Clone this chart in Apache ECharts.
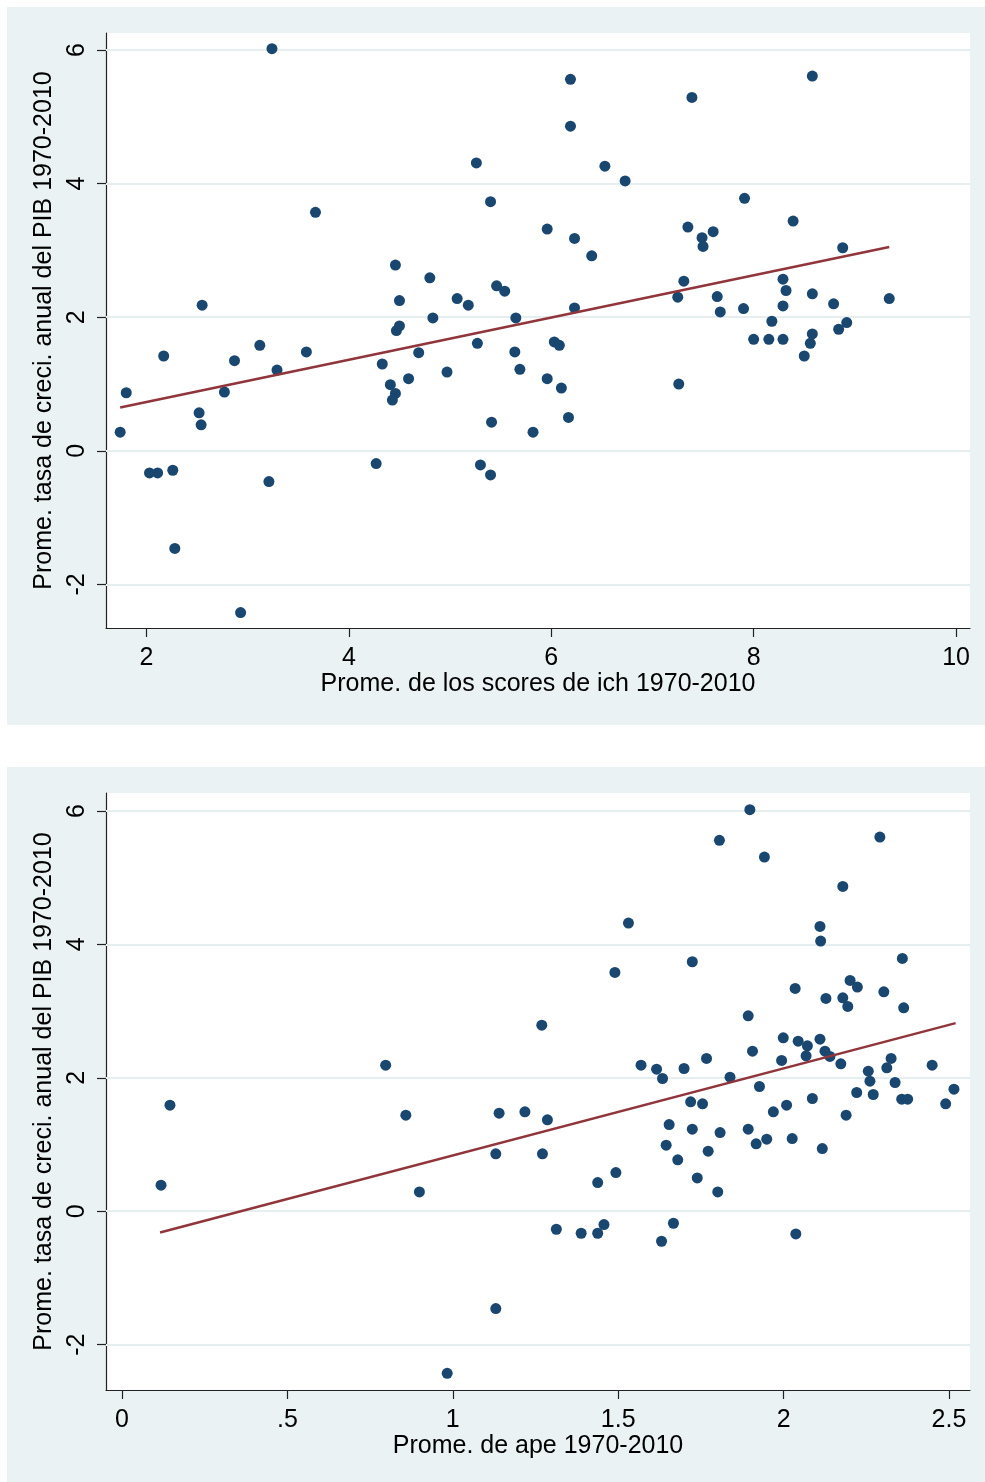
<!DOCTYPE html>
<html>
<head>
<meta charset="utf-8">
<script src="https://cdn.jsdelivr.net/npm/echarts@6/dist/echarts.min.js"></script>
<style>
html,body{margin:0;padding:0;background:#fff;}
#c{width:985px;height:1482px;}
</style>
</head>
<body>
<div id="c"></div>
<script>
// ---- data ----
const ichX = [1.74,1.80,2.17,2.03,2.11,2.26,2.28,2.52,2.54,2.55,2.77,2.87,2.93,3.12,3.21,3.29,3.24,3.58,3.67,4.27,
  4.33,4.41,4.46,4.43,4.46,4.50,4.47,4.50,4.59,4.69,4.80,4.83,4.97,5.07,5.18,5.26,5.27,5.30,5.40,5.40,
  5.41,5.46,5.54,5.65,5.64,5.69,5.82,5.96,5.96,6.03,6.08,6.10,6.17,6.19,6.19,6.23,6.23,6.40,6.53,6.73,
  7.25,7.26,7.31,7.35,7.39,7.49,7.50,7.60,7.64,7.67,7.90,7.91,8.00,8.15,8.18,8.29,8.32,8.29,8.29,8.39,
  8.50,8.56,8.58,8.58,8.58,8.79,8.84,8.92,8.88,9.34];
const ichY = [0.28,0.87,1.42,-0.33,-0.33,-0.29,-1.46,0.57,0.39,2.18,0.88,1.35,-2.42,1.58,-0.46,1.21,6.02,1.48,3.57,-0.19,
  1.30,0.99,0.86,0.76,2.78,2.25,1.80,1.87,1.08,1.47,2.59,1.99,1.18,2.28,2.18,4.31,1.61,-0.21,-0.36,3.73,
  0.43,2.47,2.39,1.99,1.48,1.22,0.28,3.32,1.08,1.63,1.58,0.94,0.50,5.56,4.86,3.18,2.14,2.92,4.26,4.04,
  2.30,1.00,2.54,3.35,5.29,3.19,3.06,3.28,2.31,2.08,2.13,3.78,1.67,1.67,1.94,2.57,2.40,2.17,1.67,3.44,
  1.42,1.61,1.75,2.35,5.61,2.20,1.82,1.92,3.04,2.28];
const ichFitX = [1.74, 9.34];
const ichFitY = [0.65, 3.05];

const apeX = [0.118,0.145,0.797,0.858,0.899,0.983,1.13,1.13,1.14,1.218,1.271,1.286,1.269,1.313,1.388,1.438,1.457,1.438,1.493,1.490,
  1.531,1.569,1.616,1.634,1.631,1.667,1.645,1.654,1.680,1.699,1.719,1.724,1.724,1.739,1.755,1.767,1.772,1.801,1.808,1.806,
  1.838,1.893,1.893,1.898,1.906,1.917,1.927,1.942,1.949,1.969,1.994,1.999,2.009,2.026,2.035,2.037,2.044,2.068,2.072,2.087,
  2.110,2.112,2.110,2.117,2.125,2.128,2.140,2.173,2.179,2.179,2.189,2.194,2.201,2.221,2.223,2.256,2.261,2.271,2.291,2.303,
  2.312,2.325,2.337,2.357,2.359,2.363,2.375,2.449,2.490,2.515];
const apeY = [0.39,1.59,2.19,1.44,0.29,-2.43,-1.46,0.86,1.47,1.49,0.86,1.37,2.79,-0.27,-0.33,-0.33,-0.20,0.43,0.58,3.58,
  4.32,2.19,2.13,1.99,-0.45,-0.18,0.99,1.30,0.77,2.14,1.64,1.23,3.74,0.50,1.61,2.29,0.90,0.29,1.18,5.56,
  2.01,2.93,1.23,6.02,2.40,1.01,1.87,5.31,1.08,1.49,2.26,2.60,1.59,1.09,3.34,-0.34,2.55,2.33,2.48,1.69,
  4.27,4.05,2.58,0.94,2.40,3.19,2.32,2.21,4.87,3.20,1.44,3.07,3.46,1.78,3.36,2.10,1.95,1.75,5.61,3.29,
  2.15,2.29,1.93,1.68,3.79,3.05,1.68,2.19,1.61,1.83];
const apeFitX = [0.115, 2.52];
const apeFitY = [-0.32, 2.82];

const yTicks = [-2, 0, 2, 4, 6];
const ichTicks = [2, 4, 6, 8, 10];
const apeTicks = [0, 0.5, 1, 1.5, 2, 2.5];
const apeTickLabels = ['0', '.5', '1', '1.5', '2', '2.5'];

const yTitle = 'Prome. tasa de creci. anual del PIB 1970-2010';
const ichTitle = 'Prome. de los scores de ich 1970-2010';
const apeTitle = 'Prome. de ape 1970-2010';

// ---- styles ----
const FONT = 'Liberation Sans, Arial, sans-serif';
const PANEL = '#eaf2f3';
const GRIDC = '#e6eef0';
const NAVY = '#1a476f';
const MAROON = '#90353b';
const AXC = '#222';

function zip(a, b) { return a.map((v, i) => [v, b[i]]); }

function xAxisCfg(idx, min, max, ticks, labels, title) {
  return {
    type: 'value', gridIndex: idx, min: min, max: max,
    name: title, nameLocation: 'middle', nameGap: 41,
    nameTextStyle: { fontFamily: FONT, fontSize: 25, color: '#000' },
    axisLine: { show: true, onZero: false, lineStyle: { color: AXC, width: 1.2 } },
    axisTick: { show: true, length: 9, customValues: ticks, lineStyle: { color: AXC, width: 1.2 } },
    axisLabel: { show: true, customValues: ticks, margin: 18, fontFamily: FONT, fontSize: 25, color: '#000',
      formatter: v => { const i = ticks.indexOf(v); return labels ? labels[i] : String(v); } },
    splitLine: { show: false }
  };
}
function yAxisCfg(idx, min, max) {
  return {
    type: 'value', gridIndex: idx, min: min, max: max,
    name: yTitle, nameLocation: 'middle', nameGap: 39, nameRotate: 90,
    nameTextStyle: { fontFamily: FONT, fontSize: 25, color: '#000' },
    axisLine: { show: true, onZero: false, lineStyle: { color: AXC, width: 1.2 } },
    axisTick: { show: true, length: 9, customValues: yTicks, lineStyle: { color: AXC, width: 1.2 } },
    axisLabel: { show: true, customValues: yTicks, rotate: 90, margin: 16, fontFamily: FONT, fontSize: 25, color: '#000',
      formatter: v => String(v) },
    splitLine: { show: false }
  };
}
function gridLines(idx) {
  return {
    type: 'line', xAxisIndex: idx, yAxisIndex: idx, data: [], z: 1, silent: true,
    markLine: { silent: true, symbol: 'none', z: 1, label: { show: false },
      lineStyle: { color: GRIDC, width: 2, type: 'solid' },
      emphasis: { disabled: true },
      data: yTicks.map(t => ({ yAxis: t })) }
  };
}

const chart = echarts.init(document.getElementById('c'), null, { renderer: 'canvas' });
chart.setOption({
  backgroundColor: '#ffffff',
  animation: false,
  graphic: [
    { type: 'rect', z: -10, shape: { x: 7, y: 7, width: 978, height: 718 }, style: { fill: PANEL } },
    { type: 'rect', z: -10, shape: { x: 7, y: 767, width: 978, height: 715 }, style: { fill: PANEL } }
  ],
  grid: [
    { left: 106, top: 33, width: 864, height: 595, show: true, backgroundColor: '#fff', borderWidth: 0 },
    { left: 106, top: 793, width: 864, height: 597, show: true, backgroundColor: '#fff', borderWidth: 0 }
  ],
  xAxis: [
    xAxisCfg(0, 1.6, 10.138, ichTicks, null, ichTitle),
    xAxisCfg(1, -0.0484, 2.5635, apeTicks, apeTickLabels, apeTitle)
  ],
  yAxis: [
    yAxisCfg(0, -2.651, 6.254),
    yAxisCfg(1, -2.68, 6.27)
  ],
  series: [
    gridLines(0),
    gridLines(1),
    { type: 'scatter', xAxisIndex: 0, yAxisIndex: 0, z: 3, symbol: 'circle', symbolSize: 11,
      itemStyle: { color: NAVY, opacity: 1 }, data: zip(ichX, ichY) },
    { type: 'line', xAxisIndex: 0, yAxisIndex: 0, z: 4, symbol: 'none',
      lineStyle: { color: MAROON, width: 2.5 }, data: zip(ichFitX, ichFitY) },
    { type: 'scatter', xAxisIndex: 1, yAxisIndex: 1, z: 3, symbol: 'circle', symbolSize: 11,
      itemStyle: { color: NAVY, opacity: 1 }, data: zip(apeX, apeY) },
    { type: 'line', xAxisIndex: 1, yAxisIndex: 1, z: 4, symbol: 'none',
      lineStyle: { color: MAROON, width: 2.5 }, data: zip(apeFitX, apeFitY) }
  ]
});
</script>
</body>
</html>
